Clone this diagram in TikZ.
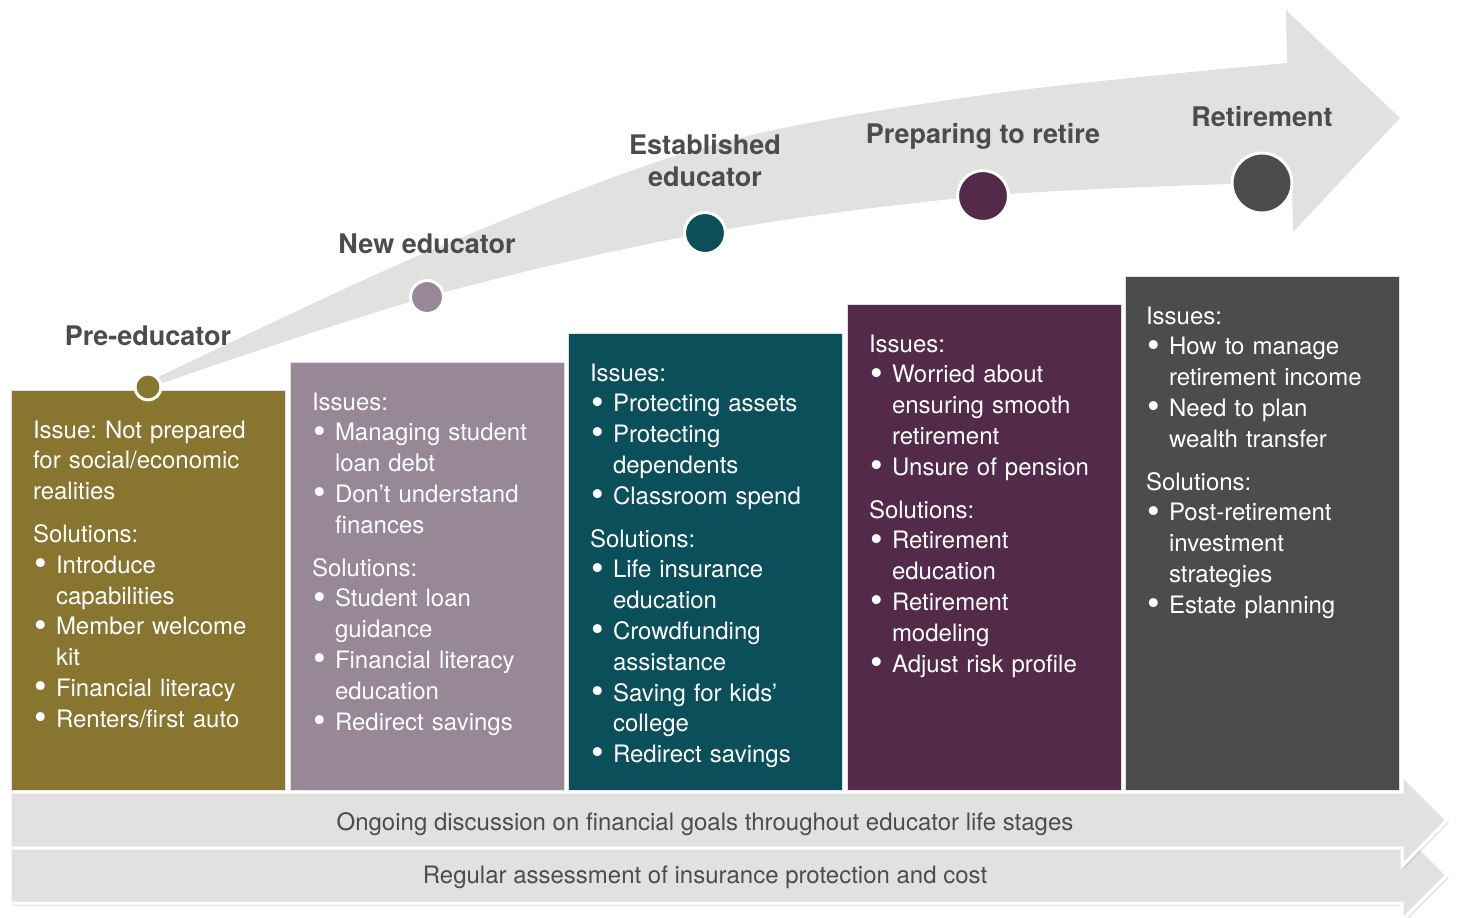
\documentclass[tikz,border=0pt]{standalone}
\usepackage{fontspec}
\setmainfont{TeX Gyre Heros}
\usepackage{tikz}
\usetikzlibrary{positioning, shadows}

\definecolor{stageolive}{HTML}{877530}
\definecolor{stagemauve}{HTML}{978797}
\definecolor{stageteal}{HTML}{0B4F5A}
\definecolor{stageplum}{HTML}{532A49}
\definecolor{stagegray}{HTML}{4B4C4E}
\definecolor{pathgray}{HTML}{E1E2DF}
\definecolor{labelgray}{HTML}{4B4C4E}

\frenchspacing
\newcommand\bitem{\par\hangindent=11.5pt\hangafter=1\makebox[11.5pt][l]{\hspace{0.6pt}\smash{\raisebox{-1.1pt}{\scalebox{1.5}{\textbullet}}}}}
\newcommand\groupgap{\par\vspace{6pt}}

\begin{document}
\begin{tikzpicture}[
    x=0.5pt, y=-0.5pt,
    stagebox/.style={rectangle, draw=black!12, line width=0.5pt, anchor=south west, minimum width=137pt, inner sep=0pt, outer sep=0pt},
    stagetext/.style={text=white, font=\fontsize{12}{15.4}\selectfont, align=left, text width=128pt, inner sep=0pt, outer sep=0pt, execute at begin node={\rule{0pt}{10pt}}},
    stagelabel/.style={text=labelgray, font=\fontsize{13.5}{16}\selectfont\bfseries, align=center, inner sep=0pt},
    stagedot/.style={circle, draw=white, line width=1.5pt, inner sep=0pt},
    band/.style={fill=pathgray, draw=white, line width=1.5pt, drop shadow={shadow xshift=1pt, shadow yshift=-1.5pt, opacity=0.18}},
    bandtext/.style={text=labelgray, font=\fontsize{12}{14}\selectfont, inner sep=0pt}
]
    \useasboundingbox (0,0) rectangle (1458,917);

    \fill [pathgray] plot [smooth, tension=0.55] coordinates {(148,382) (427,252) (705,147) (983,95) (1287,63)}
        -- (1286,10) -- (1400,118) -- (1293,232) -- (1292,182)
        -- plot [smooth, tension=0.55] coordinates {(1262,183) (983,196) (705,233) (427,297) (148,388)} -- cycle;

    \node (stage1) [stagebox, fill=stageolive, minimum height=200pt] at (11,790) {};
    \node (stage2) [stagebox, fill=stagemauve, minimum height=214pt] at (290,790) {};
    \node (stage3) [stagebox, fill=stageteal, minimum height=228.5pt] at (568,790) {};
    \node (stage4) [stagebox, fill=stageplum, minimum height=243pt] at (847,790) {};
    \node (stage5) [stagebox, fill=stagegray, minimum height=257pt] at (1125,790) {};

    \node (dot1) [stagedot, fill=stageolive, minimum size=13pt] at (148,387) {};
    \node (dot2) [stagedot, fill=stagemauve, minimum size=16.5pt] at (427,297) {};
    \node (dot3) [stagedot, fill=stageteal, minimum size=20.5pt] at (705,233) {};
    \node (dot4) [stagedot, fill=stageplum, minimum size=25.5pt] at (983,196) {};
    \node (dot5) [stagedot, fill=stagegray, minimum size=30pt] at (1262,183) {};

    \node (lab1) [stagelabel, anchor=base] at (148,345) {Pre-educator};
    \node (lab2) [stagelabel, anchor=base] at (427,253) {New educator};
    \node (lab3) [stagelabel, anchor=north] at (705,134) {Established\\educator};
    \node (lab4) [stagelabel, anchor=base] at (983,143) {Preparing to retire};
    \node (lab5) [stagelabel, anchor=base] at (1262,126) {Retirement};

    \node (text1) [stagetext, below right=14pt and 11pt of stage1.north west] {Issue: Not prepared\newline for social/economic\newline realities\groupgap
        Solutions:\bitem Introduce\newline capabilities\bitem Member welcome\newline kit\bitem Financial literacy\bitem Renters/first auto};
    \node (text2) [stagetext, below right=14pt and 11pt of stage2.north west] {Issues:\bitem Managing student\newline loan debt\bitem Don’t understand\newline finances\groupgap
        Solutions:\bitem Student loan\newline guidance\bitem Financial literacy\newline education\bitem Redirect savings};
    \node (text3) [stagetext, below right=14pt and 11pt of stage3.north west] {Issues:\bitem Protecting assets\bitem Protecting\newline dependents\bitem Classroom spend\groupgap
        Solutions:\bitem Life insurance\newline education\bitem Crowdfunding\newline assistance\bitem Saving for kids’\newline college\bitem Redirect savings};
    \node (text4) [stagetext, below right=14pt and 11pt of stage4.north west] {Issues:\bitem Worried about\newline ensuring smooth\newline retirement\bitem Unsure of pension\groupgap
        Solutions:\bitem Retirement\newline education\bitem Retirement\newline modeling\bitem Adjust risk profile};
    \node (text5) [stagetext, below right=14pt and 10.5pt of stage5.north west] {Issues:\bitem How to manage\newline retirement income\bitem Need to plan\newline wealth transfer\groupgap
        Solutions:\bitem Post-retirement\newline investment\newline strategies\bitem Estate planning};

    \path [band] (10,849) -- (1402,849) -- (1402,830) -- (1447,875) -- (1402,920) -- (1402,903) -- (10,903) -- cycle;
    \path [band] (10,792) -- (1402,792) -- (1402,775) -- (1447,820) -- (1402,866) -- (1402,848) -- (10,848) -- cycle;

    \node (talk) [bandtext, anchor=base] at (705,830) {Ongoing discussion on financial goals throughout educator life stages};
    \node (check) [bandtext, anchor=base] at (705,883) {Regular assessment of insurance protection and cost};
\end{tikzpicture}
\end{document}
